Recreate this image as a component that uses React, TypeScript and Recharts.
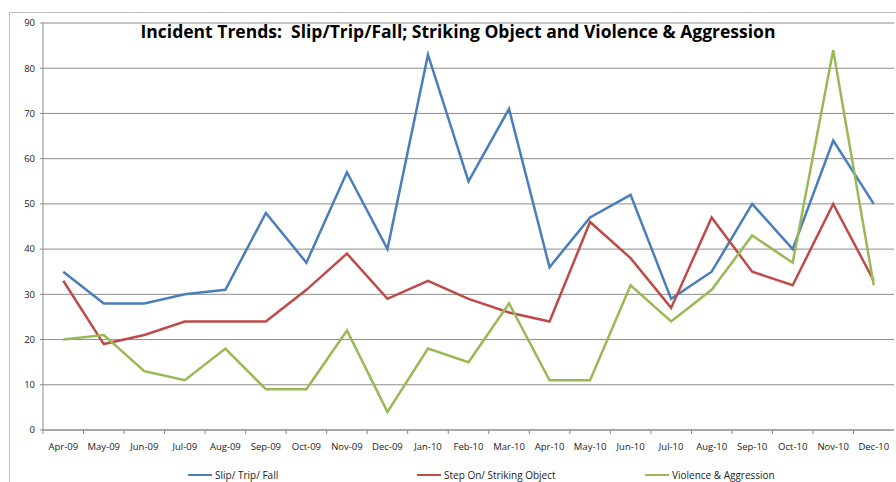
import { LineChart, Line, XAxis, YAxis, CartesianGrid, Legend } from 'recharts';

const months = [
  'Apr-09', 'May-09', 'Jun-09', 'Jul-09', 'Aug-09', 'Sep-09', 'Oct-09', 'Nov-09', 'Dec-09', 'Jan-10', 'Feb-10',
  'Mar-10', 'Apr-10', 'May-10', 'Jun-10', 'Jul-10', 'Aug-10', 'Sep-10', 'Oct-10', 'Nov-10', 'Dec-10',
];
const slipTripFall = [35, 28, 28, 30, 31, 48, 37, 57, 40, 83, 55, 71, 36, 47, 52, 29, 35, 50, 40, 64, 50];
const strikingObject = [33, 19, 21, 24, 24, 24, 31, 39, 29, 33, 29, 26, 24, 46, 38, 27, 47, 35, 32, 50, 33];
const violence = [20, 21, 13, 11, 18, 9, 9, 22, 4, 18, 15, 28, 11, 11, 32, 24, 31, 43, 37, 84, 32];
const yTicks = [0, 10, 20, 30, 40, 50, 60, 70, 80, 90];

const series = [
  { key: 'slip', name: 'Slip/ Trip/ Fall', color: '#4a7ebb', left: 188 },
  { key: 'strike', name: 'Step On/ Striking Object', color: '#be4b48', left: 417 },
  { key: 'violence', name: 'Violence & Aggression', color: '#98b954', left: 645 },
];

const data = months.map((m, i) => ({
  month: m,
  slip: slipTripFall[i],
  strike: strikingObject[i],
  violence: violence[i],
}));

const W = 896;
const H = 482;
const PLOT_LEFT = 43;
const PLOT_RIGHT = 894;
const step = (PLOT_RIGHT - PLOT_LEFT) / months.length;
const font = '"Open Sans", "DejaVu Sans", sans-serif';

const MonthTick = ({ x, y, payload }: any) => (
  <g>
    <line x1={x - step / 2} y1={y} x2={x - step / 2} y2={y + 4} stroke="#888" />
    <text x={x} y={y + 17} textAnchor="middle" dominantBaseline="middle" fontSize={9.5} fill="#222" fontFamily={font}>
      {payload.value}
    </text>
  </g>
);

const LegendContent = () => (
  <div style={{ position: 'relative', width: W, height: 22, fontFamily: font, fontSize: 10, color: '#222' }}>
    {series.map(s => (
      <div key={s.key} style={{ position: 'absolute', left: s.left, top: 8, display: 'flex', alignItems: 'center' }}>
        <span style={{ display: 'inline-block', width: 24, height: 2, background: s.color, marginRight: 3 }} />
        <span>{s.name}</span>
      </div>
    ))}
  </div>
);

export default function App() {
  return (
    <div style={{ position: 'absolute', left: 0, top: 0, width: W, height: H, overflow: 'hidden', background: '#fff' }}>
      <div style={{ position: 'absolute', left: 9, top: 12, width: W, height: H, border: '1px solid #bdbdbd' }} />
      <LineChart
        width={W}
        height={H}
        data={data}
        margin={{ top: 23, right: W - PLOT_RIGHT, left: 0, bottom: 0 }}
      >
        <CartesianGrid vertical={false} stroke="#8c8c8c" />
        <XAxis
          dataKey="month"
          interval={0}
          tickLine={false}
          tickSize={0}
          tickMargin={0}
          height={30}
          padding={{ left: step / 2, right: step / 2 }}
          stroke="#8c8c8c"
          tick={<MonthTick />}
        />
        <YAxis
          domain={[0, 90]}
          ticks={yTicks}
          width={PLOT_LEFT}
          tickSize={3}
          tickMargin={5}
          stroke="#8c8c8c"
          tick={{ fill: '#222', fontSize: 9.5, fontFamily: font }}
        />
        <Legend verticalAlign="bottom" height={22} content={<LegendContent />} />
        {series.map(s => (
          <Line
            key={s.key}
            type="linear"
            dataKey={s.key}
            name={s.name}
            stroke={s.color}
            strokeWidth={2.5}
            dot={false}
            activeDot={false}
            isAnimationActive={false}
          />
        ))}
      </LineChart>
      <div
        style={{
          position: 'absolute',
          left: 0,
          width: 916,
          top: 19,
          textAlign: 'center',
          fontFamily: font,
          fontWeight: 700,
          fontSize: 17.5,
          color: '#000',
          whiteSpace: 'pre',
        }}
      >
        {'Incident Trends:  Slip/Trip/Fall; Striking Object and Violence & Aggression'}
      </div>
    </div>
  );
}
